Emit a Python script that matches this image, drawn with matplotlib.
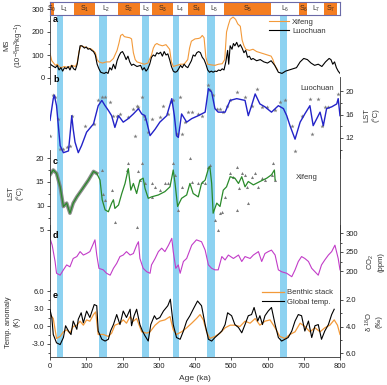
import matplotlib
matplotlib.use("Agg")
import matplotlib.pyplot as plt
from matplotlib.lines import Line2D

# ---------------- data ----------------
BANDS = [(18, 37), (135, 158), (254, 274), (340, 355), (434, 454), (634, 654)]

STRAT_EDGES = [0, 11, 66, 124, 187, 248, 282, 338, 382, 428, 480, 611, 687, 710, 757, 791, 800]
STRAT_NAMES = ['S0', 'L1', 'S1', 'L2', 'S2', 'L3', 'S3', 'L4', 'S4', 'L5', 'S5', 'L6', 'S6', 'L7', 'S7', '']

# a: magnetic susceptibility
age_ms_lc = [0, 5, 10, 15, 20, 25, 30, 35, 40, 45, 50, 55, 60, 65, 70, 75, 80, 83, 88, 95,
             100, 105, 110, 115, 120, 125, 130, 135, 140, 145, 150, 155, 160, 165, 170, 175, 180, 185, 190, 195,
             200, 205, 210, 215, 220, 225, 230, 240, 250, 255, 260, 265, 270, 275, 280, 285, 290, 295, 300, 305,
             310, 315, 320, 325, 330, 335, 340, 345, 350, 355, 360, 365, 370, 375, 380, 385, 390, 395, 400, 405,
             410, 415, 420, 425, 430, 435, 440, 445, 450, 455, 460, 465, 470, 475, 480, 485, 490, 493, 497, 502,
             506, 510, 515, 520, 525, 530, 535, 540, 545, 550, 555, 560, 570, 580, 590, 600, 610, 620, 630, 640,
             650, 660, 670, 680, 690, 700, 710, 720, 730, 740, 750, 760, 770, 775, 780, 785, 790, 795, 800]
ms_lc = [62, 55, 50, 45, 55, 35, 45, 30, 45, 40, 50, 35, 55, 40, 35, 60, 110, 140, 140, 130,
         135, 125, 128, 120, 115, 100, 60, 40, 25, 22, 20, 25, 20, 45, 35, 60, 40, 75, 95, 110,
         115, 100, 80, 95, 70, 55, 60, 50, 55, 35, 45, 30, 40, 60, 90, 100, 95, 110, 105, 112,
         95, 115, 100, 105, 80, 50, 30, 25, 28, 40, 55, 45, 60, 50, 45, 60, 75, 100, 95, 110,
         115, 110, 90, 80, 60, 35, 25, 30, 25, 30, 28, 35, 32, 40, 35, 70, 120, 60, 140, 125,
         150, 140, 155, 135, 145, 130, 110, 120, 90, 95, 80, 85, 75, 80, 70, 65, 75, 55, 25, 20,
         30, 35, 40, 45, 70, 85, 80, 65, 55, 60, 50, 70, 85, 80, 60, 70, 45, 30, 20]

age_ms_xf = [0, 5, 10, 15, 20, 25, 30, 40, 50, 60, 70, 75, 80, 85, 95, 105, 115, 125, 130, 135,
             145, 155, 165, 175, 185, 190, 195, 200, 205, 210, 220, 225, 230, 235, 240, 250, 260, 270, 280, 285,
             290, 295, 300, 310, 320, 330, 335, 340, 350, 360, 370, 380, 385, 390, 395, 400, 410, 415, 420, 425,
             430, 435, 445, 455, 465, 475, 482, 487, 492, 497, 505, 512, 518, 525, 530, 535, 540, 550, 560, 570,
             580, 590, 600, 610, 615, 620, 628]
ms_xf = [107, 75, 65, 55, 60, 50, 45, 50, 45, 55, 50, 65, 115, 140, 135, 130, 125, 110, 80, 70,
         65, 70, 70, 85, 120, 150, 185, 190, 180, 178, 175, 170, 110, 80, 70, 65, 60, 65, 100, 130,
         145, 150, 145, 140, 145, 125, 70, 50, 55, 60, 60, 80, 130, 160, 165, 170, 172, 175, 185, 175,
         90, 60, 57, 55, 60, 62, 80, 200, 230, 255, 265, 255, 235, 225, 165, 140, 125, 120, 125, 115,
         110, 105, 100, 95, 80, 55, 35]

# b: Luochuan LST
age_lst_lc = [0, 9, 12, 18, 23, 28, 37, 51, 55, 60, 64, 69, 78, 87, 101, 120, 133, 143, 152, 161,
              170, 179, 189, 202, 216, 230, 244, 253, 262, 267, 276, 290, 303, 322, 336, 343, 349, 354, 363, 377,
              391, 409, 428, 437, 446, 455, 464, 483, 497, 515, 538, 547, 556, 566, 579, 593, 611, 630, 644, 653,
              662, 676, 690, 703, 717, 726, 736, 745, 754, 763, 777, 791, 795, 800]
lst_lc = [15.0, 18.7, 19.3, 17.5, 14.1, 10.7, 9.5, 9.8, 12.4, 15.8, 13.5, 11.3, 9.5, 10.7, 13.0, 14.4, 17.5, 18.4, 17.5, 16.7,
          15.8, 13.8, 15.8, 14.7, 15.3, 16.1, 17.0, 16.1, 15.8, 14.7, 12.4, 13.5, 14.7, 15.8, 18.7, 15.8, 12.4, 12.1, 16.1, 14.7,
          15.3, 15.8, 16.4, 20.4, 19.8, 17.0, 16.4, 16.4, 18.4, 18.7, 18.4, 15.8, 17.5, 19.5, 17.8, 17.3, 16.4, 17.5, 17.0, 15.8,
          14.1, 11.8, 14.7, 16.1, 17.5, 14.1, 15.3, 16.4, 14.1, 17.0, 17.3, 17.8, 18.7, 15.8]
age_lc_pts = [9, 14, 23, 0, 28, 37, 46, 55, 60, 97, 120, 133, 143, 152, 166, 175, 184, 193, 216, 230,
              239, 244, 253, 258, 262, 235, 271, 280, 303, 313, 326, 334, 340, 349, 359, 363, 372, 382, 391, 409,
              418, 437, 441, 451, 460, 469, 478, 487, 497, 515, 538, 556, 570, 584, 598, 621, 635, 648, 667, 676,
              694, 717, 722, 740, 749, 759, 768, 795]
lst_lc_pts = [19.3, 19.0, 15.3, 12.4, 10.1, 10.1, 10.4, 10.7, 15.8, 14.1, 14.4, 18.4, 19.0, 19.0, 18.1, 15.8, 15.8, 16.1, 15.5, 17.0,
              17.5, 17.3, 19.0, 15.8, 15.3, 12.4, 13.0, 15.3, 15.5, 17.5, 16.1, 18.1, 18.4, 12.7, 19.0, 12.7, 14.7, 16.4, 16.4, 16.1,
              15.8, 21.0, 20.1, 19.3, 17.0, 17.0, 16.4, 17.5, 18.4, 19.8, 19.0, 17.5, 20.4, 17.3, 17.3, 16.7, 18.1, 18.4, 14.1, 9.8,
              15.8, 18.7, 12.7, 18.7, 14.1, 17.3, 17.3, 19.5]

# c: Xifeng LST
age_lst_xf = [0, 9, 18, 28, 37, 46, 55, 64, 74, 87, 106, 120, 129, 138, 144, 152, 161, 170, 175, 179,
              189, 198, 207, 216, 223, 230, 239, 248, 257, 262, 271, 280, 299, 317, 331, 340, 345, 352, 363, 377,
              386, 395, 409, 418, 428, 437, 441, 446, 450, 460, 469, 478, 487, 497, 510, 520, 529, 538, 547, 561,
              579, 598, 611, 619, 621]
lst_xf = [16.5, 17.5, 16.8, 14.0, 9.9, 10.6, 8.5, 10.6, 11.9, 13.3, 15.4, 17.2, 16.8, 15.4, 11.3, 9.2, 8.8, 10.6, 11.3, 9.5,
          10.2, 12.6, 14.7, 17.8, 13.3, 14.7, 12.6, 15.4, 15.8, 13.7, 11.6, 11.9, 12.3, 13.0, 14.0, 17.5, 14.7, 9.9, 11.6, 12.3,
          14.7, 12.6, 11.9, 14.7, 15.4, 17.8, 18.2, 14.7, 8.5, 10.6, 9.9, 13.3, 14.0, 16.1, 15.8, 14.7, 16.1, 14.0, 15.1, 14.4,
          15.1, 15.8, 16.5, 17.5, 15.4]
age_xf_pts = [216, 212, 244, 253, 248, 262, 179, 170, 239, 281, 281, 290, 303, 317, 326, 340, 345, 354, 363, 386,
              391, 409, 418, 428, 437, 441, 455, 464, 469, 474, 483, 497, 506, 515, 520, 529, 538, 543, 547, 556,
              566, 575, 584, 593, 612, 616, 621, 515, 143, 147, 152]
lst_xf_pts = [18.9, 17.5, 17.2, 18.9, 15.4, 14.7, 6.7, 13.3, 5.7, 11.9, 14.7, 14.0, 13.3, 14.7, 14.7, 18.9, 16.5, 9.2, 14.0, 19.9,
              15.1, 14.7, 15.1, 14.7, 18.2, 18.5, 7.1, 5.0, 8.5, 8.8, 11.9, 16.8, 16.1, 18.2, 13.7, 16.8, 16.5, 14.0, 10.6, 16.1,
              16.8, 14.0, 15.8, 15.4, 16.5, 18.9, 15.4, 9.2, 17.5, 12.6, 11.2]

# d: CO2
age_co2 = [0, 6, 14, 18, 28, 37, 46, 55, 64, 74, 83, 92, 101, 110, 120, 124, 129, 135, 147, 156,
           166, 175, 184, 193, 202, 211, 221, 230, 239, 244, 248, 257, 267, 276, 280, 290, 299, 308, 317, 327,
           336, 340, 347, 354, 359, 368, 377, 391, 404, 418, 428, 437, 446, 455, 464, 474, 483, 492, 506, 520,
           529, 538, 552, 561, 575, 584, 593, 602, 611, 621, 630, 639, 653, 667, 676, 685, 694, 703, 713, 722,
           731, 740, 749, 758, 768, 777, 786, 795, 800]
co2 = [286, 268, 225, 194, 189, 203, 216, 211, 233, 238, 251, 242, 246, 251, 273, 282, 242, 207, 203, 194,
       189, 207, 220, 238, 242, 251, 242, 246, 268, 277, 233, 207, 198, 194, 216, 233, 251, 260, 251, 268,
       286, 251, 207, 216, 194, 225, 233, 268, 282, 277, 255, 216, 207, 203, 203, 238, 229, 242, 233, 242,
       225, 238, 233, 242, 251, 225, 246, 251, 255, 242, 203, 198, 194, 185, 203, 225, 238, 233, 225, 207,
       198, 189, 216, 229, 242, 251, 268, 233, 203]

# e: global temperature anomaly and benthic d18O stack
age_temp = [0, 5, 9, 18, 28, 37, 43, 51, 58, 64, 74, 78, 86, 92, 101, 110, 122, 129, 133, 143,
            152, 161, 167, 175, 184, 193, 202, 211, 221, 225, 232, 239, 248, 255, 262, 271, 278, 288, 294, 303,
            313, 325, 332, 340, 349, 359, 368, 377, 386, 395, 407, 418, 428, 437, 446, 455, 464, 474, 483, 490,
            501, 510, 520, 529, 538, 547, 556, 563, 573, 579, 586, 593, 602, 611, 621, 630, 639, 648, 657, 667,
            676, 685, 694, 703, 713, 722, 731, 740, 749, 758, 768, 777, 784]
temp = [2.8, 1.5, -1.4, -2.8, -3.1, -1.9, 0.1, -0.8, -1.4, 0.9, -0.5, 1.2, 2.3, 0.6, 2.6, 1.5, 3.7, 3.5, -0.8, -2.2,
        -2.5, -2.2, -0.8, 0.3, 2.0, 0.3, 2.6, 1.5, 2.9, 0.1, 1.8, 2.9, 0.3, -0.8, -1.6, -2.5, 0.3, 1.8, 1.2, 1.5,
        2.6, 3.5, 4.6, 0.3, -1.9, -2.2, -0.8, 0.9, 1.8, 2.9, 4.3, 3.5, 0.3, -2.2, -2.5, -1.9, -1.4, -0.8, 0.3, 2.3,
        1.8, 0.3, -0.2, -1.1, 0.3, 1.8, 2.0, 3.2, 0.9, 1.8, 0.3, 1.8, 2.6, 3.2, 0.3, -1.9, -2.5, -2.2, -1.9, -0.8,
        0.9, 2.0, 1.8, -0.8, 0.9, -1.9, 0.1, 0.3, -2.2, -0.8, 0.3, 2.0, 2.9]

age_d18o = [0, 9, 18, 28, 37, 46, 55, 64, 74, 83, 92, 101, 110, 120, 126, 133, 147, 161, 170, 179,
            193, 202, 211, 221, 230, 239, 253, 267, 276, 290, 303, 317, 331, 340, 349, 363, 377, 391, 404, 414,
            423, 432, 441, 455, 469, 483, 497, 510, 524, 538, 552, 566, 579, 593, 607, 621, 634, 648, 662, 676,
            690, 703, 717, 731, 745, 758, 772, 784, 793, 800]
d18o = [3.1, 3.4, 4.9, 4.75, 4.4, 4.25, 4.5, 4.0, 3.9, 3.6, 3.9, 3.5, 3.6, 3.1, 2.9, 4.6, 4.6, 4.75, 4.5, 3.9,
        3.75, 3.5, 3.75, 3.25, 3.6, 3.4, 4.4, 4.5, 4.4, 3.9, 3.6, 3.5, 3.25, 4.25, 4.6, 4.4, 4.1, 3.75, 3.4, 3.1,
        3.5, 4.4, 4.9, 4.75, 4.5, 4.1, 3.9, 3.9, 4.0, 3.6, 3.75, 3.4, 3.9, 3.6, 3.5, 4.1, 4.75, 4.9, 4.6, 4.4,
        3.75, 4.0, 4.4, 4.1, 4.4, 4.1, 3.9, 3.5, 3.9, 4.6]

# ---------------- style ----------------
ORANGE = '#f39a3a'
SOIL = '#f47d20'
BAND = '#8dd2f1'
BLUE = '#2323c8'
GREEN = '#2a8a2a'
MAGENTA = '#c23cc8'
GREY = '#7a7a7a'
INK = '#333333'

plt.rcParams['font.family'] = ['Liberation Sans', 'DejaVu Sans']
plt.rcParams['font.size'] = 5.5
plt.rcParams['mathtext.fontset'] = 'custom'
plt.rcParams['mathtext.rm'] = 'Liberation Sans'
plt.rcParams['mathtext.it'] = 'Liberation Sans:italic'
plt.rcParams['mathtext.bf'] = 'Liberation Sans:bold'
plt.rcParams['mathtext.default'] = 'regular'
plt.rcParams['axes.linewidth'] = 0.6
plt.rcParams['axes.edgecolor'] = INK

W, H = 387, 385
X0, X1 = 50, 340

fig = plt.figure(figsize=(W / 100, H / 100), dpi=100)


def box(top, bot):
    return [X0 / W, 1 - bot / H, (X1 - X0) / W, (bot - top) / H]


def lims(top, bot, p1, v1, p2, v2):
    k = (v2 - v1) / (p2 - p1)
    return v1 + (bot - p1) * k, v1 + (top - p1) * k


def panel(top, bot, anchors, sides, tickside):
    ax = fig.add_axes(box(top, bot))
    ax.patch.set_alpha(0)
    ax.set_xlim(0, 800)
    ax.set_ylim(*lims(top, bot, *anchors))
    for s in ax.spines:
        ax.spines[s].set_visible(s in sides)
    ax.yaxis.set_ticks_position(tickside)
    ax.yaxis.set_label_position(tickside)
    ax.tick_params(axis='x', bottom=False, labelbottom=False, top=False)
    ax.tick_params(axis='y', which='both', direction='out', width=0.6, pad=1.5,
                   labelsize=5.5, colors=INK, labelcolor='#222222')
    ax.tick_params(axis='y', which='major', length=2.5)
    ax.tick_params(axis='y', which='minor', length=1.6)
    return ax


def ftext(px, py, s, **kw):
    fig.text(px / W, 1 - py / H, s, **kw)


# background glacial bands
bg = fig.add_axes(box(16, 357))
bg.set_xlim(0, 800)
bg.axis('off')
for a0, a1 in BANDS:
    bg.axvspan(a0, a1, color=BAND, lw=0)

# stratigraphy strip
st = fig.add_axes(box(2, 15), zorder=5)
st.set_xlim(0, 800)
st.set_ylim(0, 1)
st.set_xticks([])
st.set_yticks([])
for s in st.spines.values():
    s.set_color('#6a6aa8')
    s.set_linewidth(0.8)
for i, name in enumerate(STRAT_NAMES):
    a0, a1 = STRAT_EDGES[i], STRAT_EDGES[i + 1]
    soil = name.startswith('S')
    st.axvspan(a0, a1, color=SOIL if soil else 'white', lw=0)
    if name:
        st.text((a0 + a1) / 2, 0.45, name[0] + '$_{' + name[1:] + '}$', ha='center', va='center',
                fontsize=5, color='#3a2a20' if soil else INK)

# a: MS
ax_a = panel(3, 84, (78, 0, 9, 300), ['left'], 'left')
ax_a.set_yticks([0, 100, 200, 300])
ax_a.set_yticks([50, 150, 250], minor=True)
ax_a.plot(age_ms_xf, ms_xf, color=ORANGE, lw=0.8, label='Xifeng')
ax_a.plot(age_ms_lc, ms_lc, color='black', lw=0.8, label='Luochuan')
ax_a.legend(loc='upper left', bbox_to_anchor=(269 / W, 1 - 18.5 / H), bbox_transform=fig.transFigure,
            frameon=False, fontsize=5.5, handlelength=2.6, handletextpad=0.4, borderpad=0,
            borderaxespad=0, labelspacing=0.25, labelcolor=INK)

# b: Luochuan LST
ax_b = panel(77, 158, (91, 20, 138, 12), ['right'], 'right')
ax_b.set_yticks([12, 16, 20])
ax_b.set_yticks([10, 14, 18], minor=True)
ax_b.plot(age_lc_pts, lst_lc_pts, ls='none', marker='*', ms=3.2, color=GREY, mew=0)
ax_b.plot(age_lst_lc, lst_lc, color=BLUE, lw=1.0)

# c: Xifeng LST
ax_c = panel(150, 240, (158, 20, 230, 5), ['left', 'right'], 'left')
ax_c.set_yticks([5, 10, 15, 20])
ax_c.set_yticks([7.5, 12.5, 17.5], minor=True)
ax_c.plot(age_lst_xf[:13], lst_xf[:13], color=GREY, lw=2.6, alpha=0.85)
ax_c.plot(age_xf_pts, lst_xf_pts, ls='none', marker='^', ms=2.2, color=GREY, mew=0)
ax_c.plot(age_lst_xf, lst_xf, color=GREEN, lw=0.9)

# d: CO2
ax_d = panel(225, 290, (233, 300, 271, 200), ['left', 'right'], 'right')
ax_d.set_yticks([200, 250, 300])
ax_d.set_yticks([225, 275], minor=True)
ax_d.plot(age_co2, co2, color=MAGENTA, lw=0.8)

# e: temperature and benthic stack
ax_e = panel(290, 357, (291, 6.0, 344, -3.0), ['left', 'right', 'bottom'], 'left')
ax_e.set_yticks([-3, 0, 3, 6])
ax_e.set_yticks([-4.5, -1.5, 1.5, 4.5], minor=True)
ax_e.yaxis.set_major_formatter(matplotlib.ticker.FormatStrFormatter('%.1f'))
ax_e.tick_params(axis='x', bottom=True, labelbottom=True, direction='out', length=2.5, width=0.6,
                 pad=1.5, labelsize=5.5, colors=INK, labelcolor='#222222')
ax_e.set_xticks(range(0, 801, 100))

ax_e2 = ax_e.twinx()
ax_e2.patch.set_alpha(0)
for s in ax_e2.spines:
    ax_e2.spines[s].set_visible(s == 'right')
ax_e2.set_ylim(*lims(290, 357, 300, 2.0, 353, 6.0))
ax_e2.set_yticks([2, 4, 6])
ax_e2.set_yticks([3, 5], minor=True)
ax_e2.yaxis.set_major_formatter(matplotlib.ticker.FormatStrFormatter('%.1f'))
ax_e2.tick_params(axis='y', which='both', direction='out', width=0.6, pad=1.5,
                  labelsize=5.5, colors=INK, labelcolor='#222222')
ax_e2.tick_params(axis='y', which='major', length=2.5)
ax_e2.tick_params(axis='y', which='minor', length=1.6)
ax_e2.plot(age_d18o, d18o, color=ORANGE, lw=0.9)
ax_e.plot(age_temp, temp, color='black', lw=0.8, zorder=3)
ax_e.set_zorder(ax_e2.get_zorder() + 1)

handles = [Line2D([], [], color=ORANGE, lw=0.9), Line2D([], [], color='black', lw=0.8)]
ax_e.legend(handles, ['Benthic stack', 'Global temp.'], loc='upper left',
            bbox_to_anchor=(262 / W, 1 - 289 / H), bbox_transform=fig.transFigure,
            frameon=False, fontsize=5.5, handlelength=2.9, handletextpad=0.4, borderpad=0,
            borderaxespad=0, labelspacing=0.25, labelcolor=INK)

# panel letters and inline labels
for letter, py in [('a', 20), ('b', 80), ('c', 162), ('d', 235), ('e', 296)]:
    ftext(53, py, letter, fontsize=6.5, fontweight='bold', va='center', ha='left')
ftext(300, 89, 'Luochuan', fontsize=5.5, va='center', color=INK)
ftext(296, 178, 'Xifeng', fontsize=5.5, va='center', color=INK)

# axis titles
rot = dict(rotation=90, ha='center', va='center', fontsize=5.5, linespacing=1.25, color=INK)
ftext(15, 45, 'MS\n(10$^{-8}$m$^3$kg$^{-1}$)', **rot)
ftext(371, 115, 'LST\n(°C)', **rot)
ftext(15, 193, 'LST\n(°C)', **rot)
ftext(375, 262, 'CO$_2$\n(ppm)', **rot)
ftext(13, 322, 'Temp. anomaly\n(K)', **rot)
ftext(373, 322, 'δ $^{18}$O\n(‰)', **rot)
ftext(195, 378, 'Age (ka)', ha='center', va='center', fontsize=6, color=INK)

fig.savefig('out.png', dpi=100)
